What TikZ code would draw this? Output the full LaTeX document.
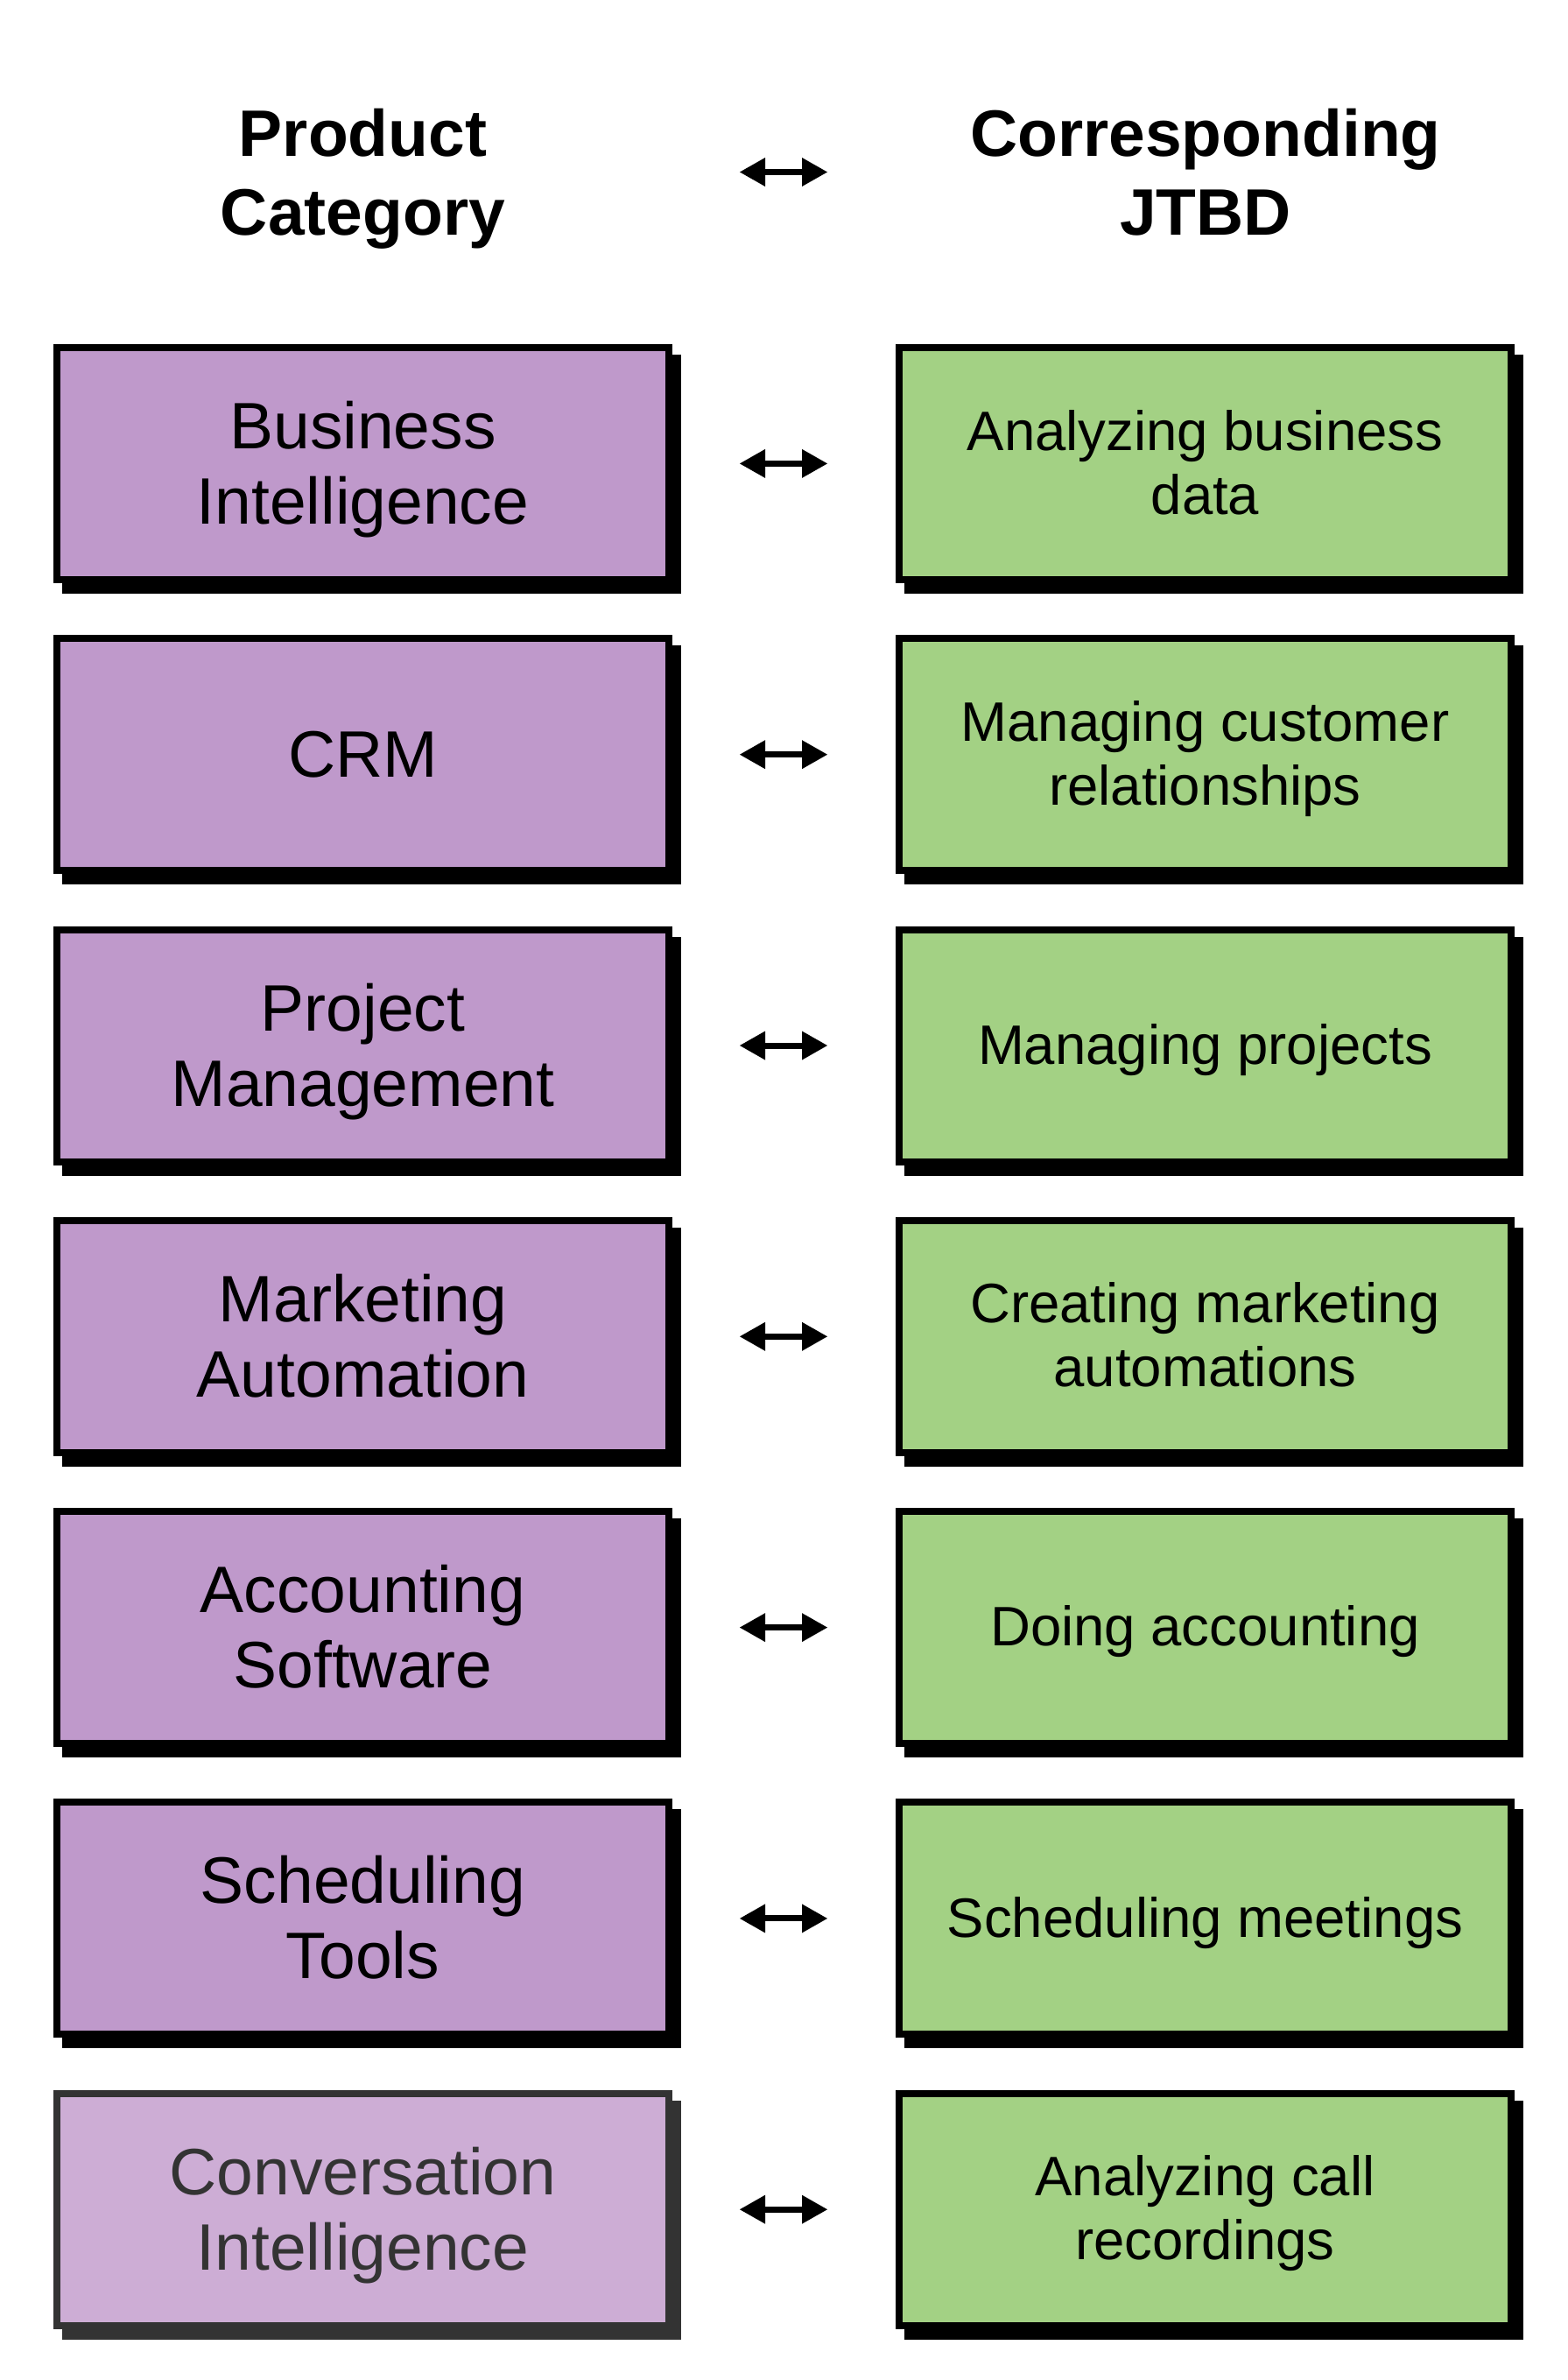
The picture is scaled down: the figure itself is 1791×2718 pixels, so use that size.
\documentclass[tikz,border=0pt]{standalone}
\usepackage{fontspec}
\setmainfont{Liberation Sans}
\usetikzlibrary{arrows.meta,calc,backgrounds}
\definecolor{purp}{HTML}{BF99CB}
\definecolor{purpl}{HTML}{CDADD5}
\definecolor{grn}{HTML}{A3D184}
\definecolor{dk}{HTML}{333333}
\newcommand\ml[1]{\begin{tabular}[t]{@{}c@{}}#1\end{tabular}}
\tikzset{
  box/.style={draw=black, line width=8pt, inner sep=0pt, outer sep=0pt, minimum height=265pt, minimum width=699pt},
  lbox/.style={box, fill=purp},
  lboxl/.style={box, draw=dk, fill=purpl},
  rbox/.style={box, fill=grn},
  ltxt/.style={anchor=base, inner sep=0pt, font=\fontsize{75}{86}\selectfont},
  rtxt/.style={anchor=base, inner sep=0pt, font=\fontsize{63.5}{73}\selectfont},
  htxt/.style={anchor=base, inner sep=0pt, font=\fontsize{75}{90}\selectfont\bfseries},
  link/.style={line width=7pt, {Triangle[length=29pt,width=33pt,line width=0pt]}-{Triangle[length=29pt,width=33pt,line width=0pt]}}
}
\begin{document}
\begin{tikzpicture}[x=1pt,y=-1pt]
\useasboundingbox (0,0) rectangle (1791,2718);
% header
\coordinate (hc) at (0,196.5);
\node[htxt] (h1) at (414.5,178) {\ml{Product\\Category}};
\node[htxt] (h2) at (1377,178) {\ml{Corresponding\\JTBD}};
% boxes
\node[lbox] (l1) at (414.5,529.4) {};
\node[lbox] (l2) at (414.5,861.7) {};
\node[lbox] (l3) at (414.5,1194.0) {};
\node[lbox] (l4) at (414.5,1526.3) {};
\node[lbox] (l5) at (414.5,1858.6) {};
\node[lbox] (l6) at (414.5,2190.9) {};
\node[lboxl] (l7) at (414.5,2523.2) {};
\node[rbox] (r1) at (1376.5,529.4) {};
\node[rbox] (r2) at (1376.5,861.7) {};
\node[rbox] (r3) at (1376.5,1194.0) {};
\node[rbox] (r4) at (1376.5,1526.3) {};
\node[rbox] (r5) at (1376.5,1858.6) {};
\node[rbox] (r6) at (1376.5,2190.9) {};
\node[rbox] (r7) at (1376.5,2523.2) {};
% left texts
\node[ltxt] (lt1) at ($(l1.center)+(0,-17)$) {\ml{Business\\Intelligence}};
\node[ltxt] (lt2) at ($(l2.center)+(0,26)$) {CRM};
\node[ltxt] (lt3) at ($(l3.center)+(0,-17)$) {\ml{Project\\Management}};
\node[ltxt] (lt4) at ($(l4.center)+(0,-17)$) {\ml{Marketing\\Automation}};
\node[ltxt] (lt5) at ($(l5.center)+(0,-17)$) {\ml{Accounting\\Software}};
\node[ltxt] (lt6) at ($(l6.center)+(0,-17)$) {\ml{Scheduling\\Tools}};
\node[ltxt, text=dk] (lt7) at ($(l7.center)+(0,-17)$) {\ml{Conversation\\Intelligence}};
% right texts
\node[rtxt] (rt1) at ($(r1.center)+(0,-15.4)$) {\ml{Analyzing business\\data}};
\node[rtxt] (rt2) at ($(r2.center)+(0,-15.4)$) {\ml{Managing customer\\relationships}};
\node[rtxt] (rt3) at ($(r3.center)+(0,21.2)$) {Managing projects};
\node[rtxt] (rt4) at ($(r4.center)+(0,-15.4)$) {\ml{Creating marketing\\automations}};
\node[rtxt] (rt5) at ($(r5.center)+(0,21.2)$) {Doing accounting};
\node[rtxt] (rt6) at ($(r6.center)+(0,21.2)$) {Scheduling meetings};
\node[rtxt] (rt7) at ($(r7.center)+(0,-15.4)$) {\ml{Analyzing call\\recordings}};
% arrows
\draw[link] ($(l1.east |- hc)+(81,0)$) -- ($(r1.west |- hc)+(-82,0)$);
\foreach \i in {1,...,7}{
  \draw[link] ($(l\i.east)+(81,0)$) -- ($(r\i.west)+(-82,0)$);
}
% background and shadows
\begin{scope}[on background layer]
  \fill[white] (0,0) rectangle (1791,2718);
  \foreach \n in {l1,l2,l3,l4,l5,l6,r1,r2,r3,r4,r5,r6,r7}{
    \fill[black] ([shift={(6,8)}]\n.north west) rectangle ([shift={(14,16)}]\n.south east);
  }
  \fill[dk] ([shift={(6,8)}]l7.north west) rectangle ([shift={(14,16)}]l7.south east);
\end{scope}
\end{tikzpicture}
\end{document}
